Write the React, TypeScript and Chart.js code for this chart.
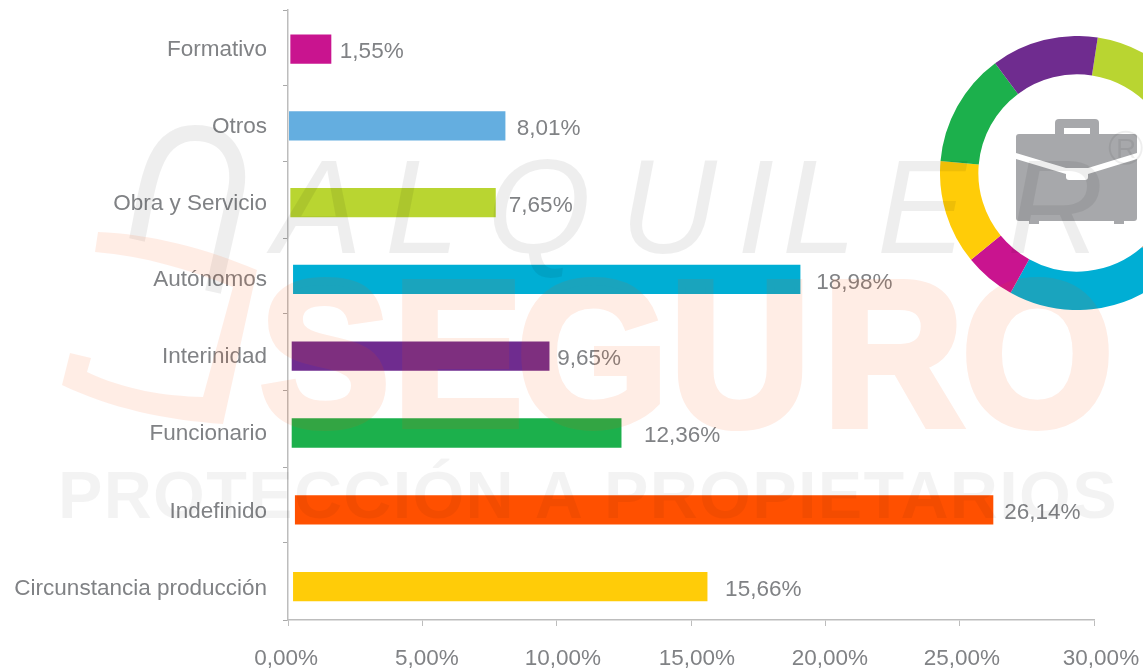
import React, { useEffect, useRef } from "react";
import { Chart, registerables } from "chart.js";

Chart.register(...registerables);

const categories = ["Formativo", "Otros", "Obra y Servicio", "Autónomos", "Interinidad", "Funcionario", "Indefinido", "Circunstancia producción"];
const valueLabels = ["1,55%", "8,01%", "7,65%", "18,98%", "9,65%", "12,36%", "26,14%", "15,66%"];
const barStarts = [0.1, 0.05, 0.1, 0.2, 0.15, 0.15, 0.27, 0.2];
const barEnds = [1.6, 8.08, 7.72, 19.06, 9.72, 12.4, 26.24, 15.6];
const barColors = ["#c9148f", "#64aee0", "#b9d531", "#00aed4", "#6f2c8f", "#1cb04c", "#ff5000", "#ffcc08"];
const labelGaps = [0.33, 0.43, 0.5, 0.6, 0.3, 0.85, 0.42, 0.67];
const tickMarks = [0.469, 1.471, 2.461, 3.45, 4.453, 5.443, 6.42];
const yLabelAt = [0.01, 1.015, 2.01, 3.01, 4.005, 5.01, 6.02, 7.025];

const donutValues = [40, 40, 50, 70.3, 21.7, 44.3, 48.3, 45.4];
const donutColors = ["#b9d531", "#64aee0", "#ff5000", "#00aed4", "#c9148f", "#ffcc08", "#1cb04c", "#6f2c8f"];

const xMarks = [0, 5, 10, 15, 20, 25, 30];
const xLabels = ["0,00%", "5,00%", "10,00%", "15,00%", "20,00%", "25,00%", "30,00%"];
const xLabelAt = [-0.07, 5.17, 10.23, 15.22, 20.17, 25.08, 30.26];

const alquilerLetters = ["A", "L", "Q", "U", "I", "L", "E", "R"];
const alquilerAt = [273, 385, 487, 620, 737, 782, 877, 1007];
const seguroLetters = ["S", "E", "G", "U", "R", "O"];
const seguroAt = [260, 393, 517, 670, 823, 962];

const FONT = "'Liberation Sans', Arial, sans-serif";
const TEXT = "#808285";

function poly(ctx: CanvasRenderingContext2D, pts: number[][]) {
  ctx.beginPath();
  pts.forEach((p, i) => (i ? ctx.lineTo(p[0], p[1]) : ctx.moveTo(p[0], p[1])));
  ctx.closePath();
}

const watermark = {
  id: "watermark",
  afterDraw(chart: any) {
    const ctx: any = chart.ctx;
    ctx.save();
    const grey = "rgba(0,0,0,0.065)";
    const orange = "rgba(255,80,0,0.1)";
    ctx.textAlign = "left";
    ctx.textBaseline = "alphabetic";

    ctx.fillStyle = grey;
    ctx.font = `italic 134px ${FONT}`;
    alquilerLetters.forEach((l, i) => ctx.fillText(l, alquilerAt[i], 253));
    ctx.font = `28px ${FONT}`;
    ctx.strokeStyle = grey;
    ctx.lineWidth = 2;
    ctx.beginPath();
    ctx.arc(1125.7, 147.7, 16, 0, Math.PI * 2);
    ctx.stroke();
    ctx.fillText("R", 1116, 158);

    ctx.lineWidth = 16;
    ctx.beginPath();
    ctx.moveTo(137, 240);
    ctx.bezierCurveTo(148, 190, 150, 133, 195, 133);
    ctx.bezierCurveTo(232, 133, 242, 165, 235, 195);
    ctx.lineTo(213, 292);
    ctx.stroke();

    const off = document.createElement("canvas");
    off.width = chart.width;
    off.height = chart.height;
    const o: any = off.getContext("2d");
    o.fillStyle = "#ff5000";
    o.strokeStyle = "#ff5000";
    o.lineJoin = "miter";
    o.lineWidth = 8;
    o.font = `bold 206px ${FONT}`;
    seguroLetters.forEach((l, i) => {
      const w = o.measureText(l).width * 0.943;
      o.fillText(l, seguroAt[i], 425, w);
      o.strokeText(l, seguroAt[i], 425, w);
    });
    ctx.globalAlpha = 0.1;
    ctx.drawImage(off, 0, 0);
    ctx.globalAlpha = 1;

    ctx.fillStyle = orange;
    ctx.beginPath();
    ctx.moveTo(98, 232);
    ctx.bezierCurveTo(150, 234, 205, 248, 257, 270);
    ctx.lineTo(223, 424);
    ctx.bezierCurveTo(165, 420, 110, 408, 62, 385);
    ctx.lineTo(70, 353);
    ctx.lineTo(91, 358);
    ctx.lineTo(87, 372);
    ctx.bezierCurveTo(125, 390, 165, 396, 203, 397);
    ctx.lineTo(233, 287);
    ctx.bezierCurveTo(190, 270, 145, 256, 95, 252);
    ctx.closePath();
    ctx.fill();

    ctx.fillStyle = "rgba(0,0,0,0.047)";
    ctx.letterSpacing = "1.3px";
    ctx.font = `bold 66.6px ${FONT}`;
    ctx.fillText("PROTECCIÓN A PROPIETARIOS", 58, 518);
    ctx.letterSpacing = "0px";
    ctx.restore();
  },
};

const valueText = {
  id: "valueText",
  afterDatasetsDraw(chart: any) {
    const ctx: CanvasRenderingContext2D = chart.ctx;
    const x = chart.scales.x;
    const y = chart.scales.y;
    ctx.save();
    ctx.font = `22.5px ${FONT}`;
    ctx.fillStyle = TEXT;
    ctx.textBaseline = "middle";
    ctx.textAlign = "left";
    valueLabels.forEach((t, i) => {
      ctx.fillText(t, x.getPixelForValue(barEnds[i] + labelGaps[i]), y.getPixelForValue(i) + 3);
    });
    ctx.restore();
  },
};

const briefcase = {
  id: "briefcase",
  afterDraw(chart: any) {
    const ctx: CanvasRenderingContext2D = chart.ctx;
    const a = chart.getDatasetMeta(0).data[0];
    ctx.save();
    ctx.translate(a.x, a.y);
    ctx.fillStyle = "#a7a8ab";
    ctx.beginPath();
    ctx.roundRect(-22, -54, 44, 24, 4);
    ctx.fill();
    ctx.beginPath();
    ctx.roundRect(-61, -39, 121, 87, 3);
    ctx.fill();
    ctx.fillRect(-48, 47, 10, 4);
    ctx.fillRect(37, 47, 10, 4);
    ctx.fillStyle = "#ffffff";
    ctx.fillRect(-13, -45, 26, 6);
    poly(ctx, [[-61, -20], [-11, -5], [11, -5], [60, -20], [60, -14], [11, 1], [-11, 1], [-61, -14]]);
    ctx.fill();
    ctx.beginPath();
    ctx.roundRect(-11, -5, 22, 12, 3);
    ctx.fill();
    ctx.restore();
  },
};

export default function App() {
  const mainRef = useRef<HTMLCanvasElement>(null);
  const donutRef = useRef<HTMLCanvasElement>(null);

  useEffect(() => {
    const donut = new Chart(donutRef.current!, {
      type: "doughnut",
      data: {
        labels: donutValues.map((_, i) => String(i)),
        datasets: [{ data: donutValues, backgroundColor: donutColors, borderWidth: 0 }],
      },
      options: {
        animation: false,
        responsive: false,
        rotation: 8.7,
        cutout: "72%",
        layout: { padding: 0 },
        plugins: { legend: { display: false }, tooltip: { enabled: false } },
      },
      plugins: [briefcase],
    } as any);

    const main = new Chart(mainRef.current!, {
      type: "bar",
      data: {
        datasets: [
          {
            data: categories.map((_, i) => ({ x: [barStarts[i], barEnds[i]], y: i })),
            backgroundColor: barColors,
            barThickness: 28.6,
            borderWidth: 0,
          },
        ],
      },
      options: {
        indexAxis: "y",
        animation: false,
        responsive: false,
        layout: { padding: { top: 10, right: 49, left: 0, bottom: 0 } },
        plugins: { legend: { display: false }, tooltip: { enabled: false } },
        scales: {
          x: {
            type: "linear",
            min: 0,
            max: 30,
            afterBuildTicks: (s: any) => {
              const all = [...xMarks, ...xLabelAt].sort((a, b) => a - b);
              s.ticks = all.map((value) => ({ value }));
            },
            afterFit: (s: any) => {
              s.height = 48;
              s.paddingLeft = 0;
              s.paddingRight = 0;
            },
            grid: {
              drawOnChartArea: false,
              tickLength: 6,
              color: "rgba(0,0,0,0)",
              tickColor: (c: any) => (xMarks.includes(c.tick?.value) ? "#bdbdbd" : "rgba(0,0,0,0)"),
            },
            border: { color: "#bdbdbd", width: 1.5 },
            ticks: {
              autoSkip: false,
              maxRotation: 0,
              padding: 19,
              color: TEXT,
              font: { family: FONT, size: 22.5 },
              callback: (v: any) => {
                const i = xLabelAt.indexOf(v);
                return i >= 0 ? xLabels[i] : "";
              },
            },
          },
          y: {
            type: "linear",
            reverse: true,
            offset: false,
            min: -0.508,
            max: 7.435,
            afterBuildTicks: (s: any) => {
              const ticks = [...yLabelAt, ...tickMarks, -0.508, 7.435].sort((a, b) => a - b);
              s.ticks = ticks.map((value) => ({ value }));
            },
            afterFit: (s: any) => {
              s.width = 288;
              s.paddingTop = 0;
              s.paddingBottom = 0;
            },
            grid: {
              offset: false,
              drawOnChartArea: false,
              tickLength: 5,
              tickColor: (c: any) => (yLabelAt.includes(c.tick?.value) ? "rgba(0,0,0,0)" : "#a9a9a9"),
            },
            border: { color: "#bdbdbd", width: 1.5 },
            ticks: {
              autoSkip: false,
              padding: 16,
              color: TEXT,
              font: { family: FONT, size: 22.5 },
              callback: (v: any) => {
                const i = yLabelAt.indexOf(v);
                return i >= 0 ? categories[i] : "";
              },
            },
          },
        },
      },
      plugins: [valueText, watermark],
    } as any);

    return () => {
      main.destroy();
      donut.destroy();
    };
  }, []);

  return (
    <div style={{ position: "fixed", left: 0, top: 0, width: 1143, height: 668, overflow: "hidden", background: "#fff" }}>
      <canvas ref={donutRef} width={274} height={274} style={{ position: "absolute", left: 940, top: 36 }} />
      <canvas ref={mainRef} width={1143} height={668} style={{ position: "absolute", left: 0, top: 0 }} />
    </div>
  );
}
